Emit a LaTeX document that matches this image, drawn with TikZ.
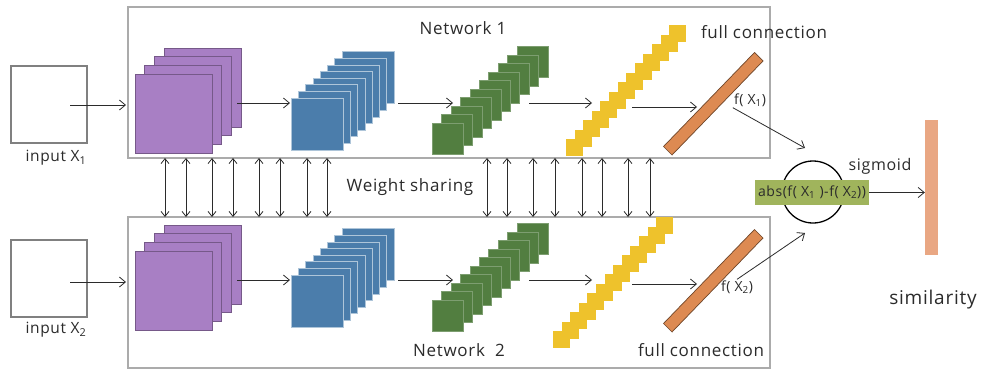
\documentclass[tikz,border=0pt]{standalone}
\usepackage{fontspec}
\setmainfont{Open Sans}[LetterSpace=4]
\usetikzlibrary{arrows.meta}

\definecolor{layerPurple}{HTML}{A87FC4}
\definecolor{layerBlue}{HTML}{4B7DAB}
\definecolor{layerGreen}{HTML}{527E40}
\definecolor{layerYellow}{HTML}{EEC22C}
\definecolor{layerOrange}{HTML}{DD8A52}
\definecolor{simOrange}{HTML}{E9A783}
\definecolor{absGreen}{HTML}{A0B45C}
\definecolor{ink}{HTML}{2B2B2B}

\tikzset{
  netbox/.style={draw=black!33, line width=1.4pt, minimum width=642pt, minimum height=151pt, inner sep=0pt, outer sep=0pt},
  inbox/.style={draw=black!50, line width=1.8pt, minimum width=76pt, minimum height=77pt, inner sep=0pt, outer sep=0pt},
  flow/.style={draw=ink, line width=0.8pt, -{Straight Barb[length=6pt,width=10pt]}},
  share/.style={draw=ink, line width=0.8pt, {Straight Barb[length=5pt,width=8pt]}-{Straight Barb[length=5pt,width=8pt]}},
  purpleLayer/.style={fill=layerPurple, draw=layerPurple!70!black, line width=0.6pt},
  blueLayer/.style={fill=layerBlue, draw=layerBlue!45!white, line width=0.8pt},
  greenLayer/.style={fill=layerGreen, draw=layerGreen!75!white, line width=0.6pt},
  yellowLayer/.style={fill=layerYellow},
  orangeLayer/.style={fill=layerOrange, draw=layerOrange!50!black, line width=0.7pt},
  lbl/.style={text=ink, inner sep=1pt, font=\fontsize{17}{20}\selectfont},
  inlbl/.style={lbl, font=\fontsize{15.5}{18}\selectfont},
  smalllbl/.style={lbl, font=\fontsize{14}{16}\selectfont},
  absbox/.style={fill=absGreen, text=ink, minimum width=114pt, minimum height=25pt, inner sep=0pt, font=\fontsize{14}{16}\selectfont},
  simbar/.style={fill=simOrange, minimum width=13pt, minimum height=135pt, inner sep=0pt}
}

\newcommand\drawNetwork[2]{
  \foreach \i in {3,2,...,0} {
    \draw[purpleLayer] (135+9.7*\i,74-8.7*\i) rectangle ++(77,79);
  }
  \foreach \i in {7,6,...,0} {
    \draw[blueLayer] (291+7.3*\i,98-6.6*\i) rectangle ++(52,52);
  }
  \foreach \i in {9,8,...,0} {
    \draw[greenLayer] (432+9.45*\i,123-8.5*\i) rectangle ++(31,31);
  }
  \foreach \i in {0,...,12} {
    \fill[yellowLayer] (#1+8.6*\i,#2-9.5*\i) rectangle ++(17,17);
  }
  \draw[orangeLayer] (663.5,146.5) -- (672,155) -- (763,61) -- (754.5,52.5) -- cycle;
  \foreach \p/\xa/\xb/\y in {a/70/126/105,b/237/290/103,c/398/453/103,d/529/592/103,e/632/697/107} {
    \coordinate (\p0) at (\xa,\y);
    \coordinate (\p1) at (\xb,\y);
    \draw[flow] (\p0) -- (\p1);
  }
}

\begin{document}
\begin{tikzpicture}[x=1pt,y=-1pt]
    \fill[white] (0,0) rectangle (985,370);
    \useasboundingbox (0,0) rectangle (985,370);

    \node[netbox] (net1) at (449,82.5) {};
    \node[netbox] (net2) at (449,292.5) {};
    \node[inbox] (in1) at (49,104.5) {};
    \node[inbox] (in2) at (49,278.5) {};

    \begin{scope}[name prefix=t-]
      \drawNetwork{566}{139}
    \end{scope}

    \begin{scope}[shift={(0,177)}, name prefix=b-]
      \drawNetwork{553}{154}
    \end{scope}

    \foreach \x in {165,186,212,233,259,280,307,327,487,507,533,555,582,602,628,650} {
      \coordinate (w) at (\x,0);
      \draw[share] (w |- net1.south) -- (w |- net2.north);
    }

    \node[inlbl] (in1lbl) at (56,158) {input X\textsubscript{1}};
    \node[inlbl] (in2lbl) at (56,330) {input X\textsubscript{2}};
    \node[lbl] (net1lbl) at (463,28) {Network 1};
    \node[lbl] (net2lbl) at (459,350) {Network\ \ 2};
    \node[lbl] (fc1) at (764,32) {full connection};
    \node[lbl] (fc2) at (701,350) {full connection};
    \node[lbl] (wslbl) at (410,187) {Weight sharing};
    \node[smalllbl] (fx1) at (750,100) {f( X\textsubscript{1})};
    \node[smalllbl] (fx2) at (737,287) {f( X\textsubscript{2})};

    \node[draw=black, line width=1.3pt, circle, minimum size=62pt] (circ) at (813,192) {};
    \node[absbox] (abs) at (812,192.5) {abs(f( X\textsubscript{1} )-f( X\textsubscript{2}))};
    \node[lbl, font=\fontsize{16}{19}\selectfont] (sig) at (880,166) {sigmoid};
    \node[simbar] (sim) at (931.5,187.5) {};
    \node[lbl, font=\fontsize{19}{22}\selectfont] (simlbl) at (933,300) {similarity};

    \coordinate (j1) at (805,148);
    \coordinate (j2) at (805,233);
    \draw[flow] (fx1.south west) -- (j1);
    \draw[flow] (fx2.north) -- (j2);
    \draw[flow] (abs.east) -- (abs.east -| sim.west);
  \end{tikzpicture}
\end{document}
